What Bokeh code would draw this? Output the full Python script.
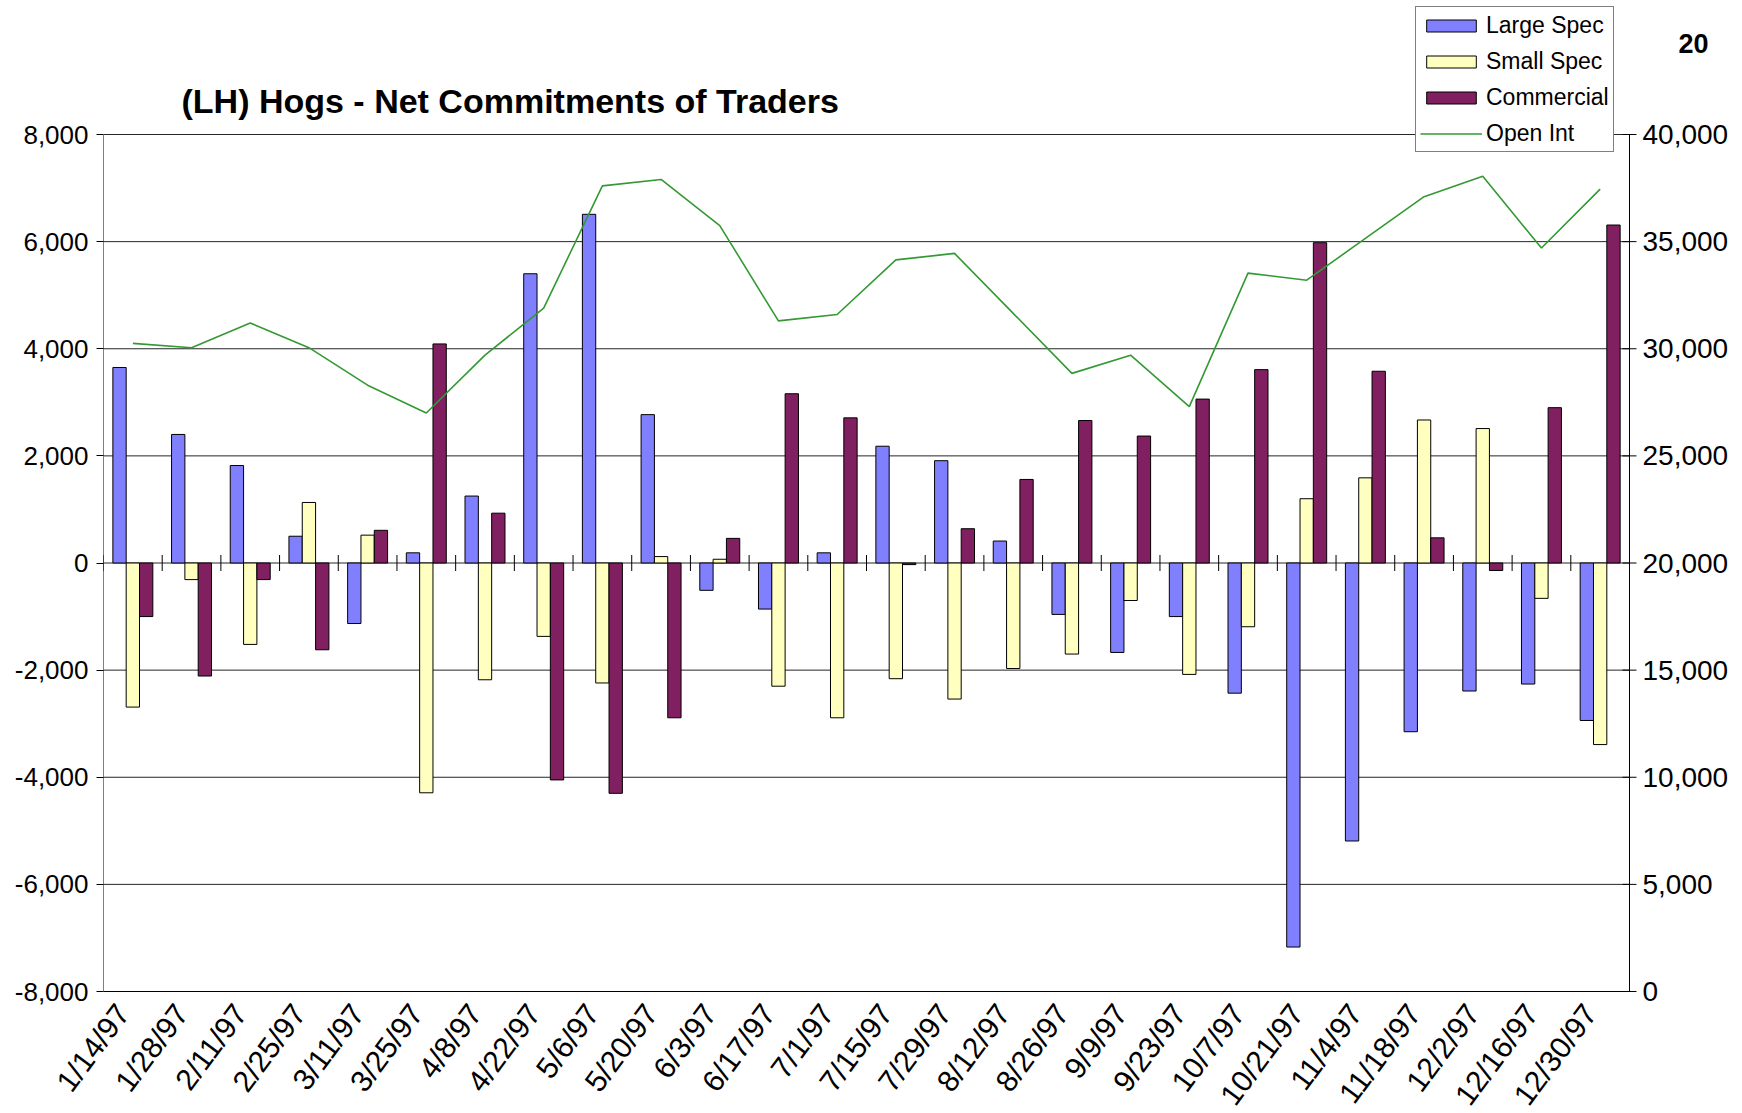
import math
from bokeh.plotting import figure
from bokeh.models import (ColumnDataSource, Range1d, FixedTicker, NumeralTickFormatter,
                          Legend, LegendItem, Label)
from bokeh.core.properties import value
from bokeh.embed import file_html
from bokeh.resources import INLINE

# ---------------- data ----------------
dates = ["1/14/97", "1/28/97", "2/11/97", "2/25/97", "3/11/97", "3/25/97", "4/8/97",
         "4/22/97", "5/6/97", "5/20/97", "6/3/97", "6/17/97", "7/1/97", "7/15/97",
         "7/29/97", "8/12/97", "8/26/97", "9/9/97", "9/23/97", "10/7/97", "10/21/97",
         "11/4/97", "11/18/97", "12/2/97", "12/16/97", "12/30/97"]

large_spec = [3650, 2400, 1820, 500, -1130, 190, 1250, 5400, 6510, 2770, -510, -860, 190,
              2180, 1910, 410, -960, -1670, -1000, -2430, -7170, -5190, -3150, -2390, -2260, -2940]
small_spec = [-2690, -310, -1520, 1130, 520, -4290, -2180, -1370, -2240, 120, 70, -2300, -2890,
              -2160, -2540, -1970, -1700, -700, -2080, -1190, 1200, 1590, 2670, 2510, -660, -3390]
commercial = [-1000, -2110, -310, -1620, 610, 4090, 930, -4050, -4300, -2890, 460, 3160, 2710,
              -30, 640, 1560, 2660, 2370, 3060, 3610, 5980, 3580, 470, -140, 2900, 6310]
open_int = [30250, 30050, 31200, 30050, 28300, 27000, 29700, 31900, 37600, 37900, 35750, 31300,
            31600, 34150, 34450, 31650, 28850, 29700, 27300, 33530, 33200, 35150, 37100, 38050,
            34700, 37450]

left_ticks = list(range(-8000, 8001, 2000))
right_ticks = list(range(0, 40001, 5000))

title_text = "(LH) Hogs - Net Commitments of Traders"
page_no = "20"

# ---------------- layout constants (pixels) ----------------
FONT = "Liberation Sans"
LEFT = 103           # frame left (= left value axis)
PLOT_W = 1526        # width of the category area (left axis -> right axis)
FRAME_W = 1637       # frame reaches nearly to the window's right edge
AXIS_TOP = 134       # y pixel of the top of the value axes
AXIS_BOT = 991       # y pixel of the bottom of the value axes
BELOW = 16           # frame continues a little below the bottom axis
FRAME_H = AXIS_BOT + BELOW
AX_H = AXIS_BOT - AXIS_TOP

ncat = len(dates)
lmin, lmax = left_ticks[0], left_ticks[-1]
rmin, rmax = right_ticks[0], right_ticks[-1]
lpp = (lmax - lmin) / AX_H
rpp = (rmax - rmin) / AX_H
x_end = ncat * FRAME_W / PLOT_W

p = figure(x_range=Range1d(0, x_end),
           y_range=Range1d(lmin - BELOW * lpp, lmax + AXIS_TOP * lpp),
           frame_width=FRAME_W, frame_height=FRAME_H, output_backend="svg",
           toolbar_location=None, min_border_left=LEFT, min_border_top=0,
           min_border_right=0, min_border_bottom=96)
p.extra_y_ranges = {"oi": Range1d(rmin - BELOW * rpp, rmax + AXIS_TOP * rpp)}
p.outline_line_color = None
p.background_fill_color = "white"
p.border_fill_color = "white"

centers = [i + 0.5 for i in range(ncat)]
src = ColumnDataSource(dict(x=centers, date=dates, ls=large_spec, ss=small_spec,
                            cm=commercial, oi=open_int))

# grid (only across the category area)
p.xgrid.grid_line_color = None
p.ygrid.grid_line_color = None
p.segment(x0=[0] * len(left_ticks), y0=left_ticks, x1=[ncat] * len(left_ticks), y1=left_ticks,
          line_color="#262626", line_width=1)

# axis lines (left, right, bottom)
p.segment(x0=[0, ncat, 0], y0=[lmin, lmin, lmin], x1=[0, ncat, ncat], y1=[lmax, lmax, lmin],
          line_color="black", line_width=1)

bw = 0.227
r_ls = p.vbar(x=[c - bw for c in centers], top=large_spec, bottom=0, width=bw,
              fill_color="#8080FF", line_color="black", line_width=1)
r_ss = p.vbar(x=centers, top=small_spec, bottom=0, width=bw,
              fill_color="#FFFFC0", line_color="black", line_width=1)
r_cm = p.vbar(x=[c + bw for c in centers], top=commercial, bottom=0, width=bw,
              fill_color="#802060", line_color="black", line_width=1)

# category axis crossing at zero, tick marks between categories
bounds = list(range(ncat + 1))
p.scatter(x=bounds, y=[0] * len(bounds), marker="dash", size=16, angle=math.pi / 2,
          line_color="black", line_width=1)

r_oi = p.line(x="x", y="oi", source=src, y_range_name="oi", line_color="#339933",
              line_width=1.6)

# left axis (native)
ya = p.yaxis[0]
ya.ticker = FixedTicker(ticks=left_ticks)
ya.formatter = NumeralTickFormatter(format="0,0")
ya.major_label_text_font = FONT
ya.major_label_text_font_size = "26px"
ya.major_label_text_color = "black"
ya.axis_line_color = None
ya.major_tick_line_color = "black"
ya.major_tick_out = 7
ya.major_tick_in = 0
ya.minor_tick_line_color = None
ya.major_label_standoff = 8

# right axis (Open Int scale) at the end of the category area
p.scatter(x=[ncat] * len(right_ticks), y=right_ticks, y_range_name="oi", marker="dash",
          size=14, line_color="black", line_width=1)
p.text(x=[ncat] * len(right_ticks), y=right_ticks, text=[f"{v:,}" for v in right_ticks],
       y_range_name="oi", x_offset=13, text_align="left", text_baseline="middle",
       text_font=value(FONT), text_font_size=value("28px"), text_color="black")

# bottom axis with the dates (labels hang just under the bottom value line)
label_shift = 0.17
xa = p.xaxis[0]
lab_pos = [c - label_shift for c in centers]
xa.ticker = FixedTicker(ticks=lab_pos)
xa.major_label_overrides = {x: d for x, d in zip(lab_pos, dates)}
xa.major_label_orientation = 0.93
xa.major_label_text_font = FONT
xa.major_label_text_font_size = "30px"
xa.major_label_text_color = "black"
xa.axis_line_color = None
xa.major_tick_line_color = None
xa.minor_tick_line_color = None
xa.major_label_standoff = 10 - BELOW

# legend
legend = Legend(items=[LegendItem(label="Large Spec", renderers=[r_ls]),
                       LegendItem(label="Small Spec", renderers=[r_ss]),
                       LegendItem(label="Commercial", renderers=[r_cm]),
                       LegendItem(label="Open Int", renderers=[r_oi])],
                location=(1312, FRAME_H - 152), orientation="vertical",
                border_line_color="black", border_line_width=1,
                background_fill_color="white", background_fill_alpha=1.0,
                label_text_font=FONT, label_text_font_size="23px", label_text_color="black",
                glyph_width=62, glyph_height=15, label_height=28, spacing=8, padding=4,
                margin=0, label_standoff=4)
p.add_layout(legend, "center")

# title & page number
p.add_layout(Label(x=78, y=FRAME_H - 100, x_units="screen", y_units="screen", text=title_text,
                   text_font=FONT, text_font_size="34px", text_font_style="bold",
                   text_color="black", text_baseline="alphabetic"))
p.add_layout(Label(x=1575, y=FRAME_H - 43, x_units="screen", y_units="screen", text=page_no,
                   text_font=FONT, text_font_size="27px", text_font_style="bold",
                   text_color="black", text_baseline="alphabetic"))

open("out.html", "w").write(file_html(p, INLINE))
